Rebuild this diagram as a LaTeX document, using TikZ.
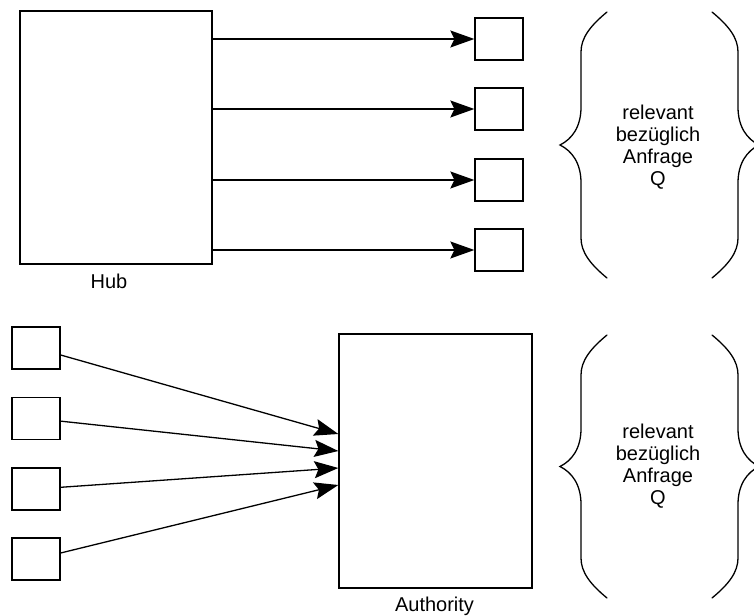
\documentclass[tikz,border=0pt]{standalone}
\usepackage{fontspec}
\setmainfont{Liberation Sans}
\usetikzlibrary{arrows.meta}
\begin{document}
\begin{tikzpicture}[x=1pt,y=-1pt,
  line width=1.3pt,
  every node/.style={font=\fontsize{20}{22}\selectfont},
  bigbox/.style={draw, line width=1.3pt, minimum width=192pt, minimum height=253pt, inner sep=0pt},
  page/.style={draw, line width=1.3pt, minimum width=48pt, minimum height=42pt, inner sep=0pt},
  link/.style={-{Stealth[length=24pt,width=17pt,inset=4pt]}, line width=1.3pt},
  caption/.style={anchor=base, inner sep=0pt},
  bracetext/.style={align=center, inner sep=0pt},
  bracepath/.style={line width=1.3pt, line cap=round}]
\useasboundingbox (0,0) rectangle (754,615);

% ---------- hub part ----------
\node[bigbox] (hub) at (116,137.5) {};
\node[caption] (hublabel) at (109,288) {Hub};
\foreach \i/\y in {1/39,2/109,3/180,4/250}{
  \node[page] (t\i) at (499,\y) {};
  \draw[link] (hub.east |- t\i.west) -- (t\i.west);
}

% ---------- authority part ----------
\node[bigbox, minimum width=193pt, minimum height=254pt] (auth) at (435.5,461) {};
\node[caption] (authlabel) at (434.5,611) {Authority};
\foreach \i/\y/\e in {1/348/434,2/418.5/451,3/489/468,4/559/485}{
  \node[page] (b\i) at (36,\y) {};
  \coordinate (in\i) at (auth.west |- 0,\e);
  \draw[link] (b\i) -- (in\i);
}

% ---------- braces ----------
% #1 = top, #2 = tip, #3 = bottom (y values)
\newcommand{\leftbrace}[3]{%
  \draw[bracepath] (607,#1) .. controls (590,#1+14) and (581,#1+26) .. (581,#1+40)
    -- (581,#2-38) .. controls (581,#2-18) and (572,#2-6) .. (560,#2)
    .. controls (572,#2+6) and (581,#2+18) .. (581,#2+38)
    -- (581,#3-40) .. controls (581,#3-26) and (590,#3-14) .. (607,#3);}
\newcommand{\rightbrace}[3]{%
  \draw[bracepath] (712,#1) .. controls (729,#1+14) and (738,#1+26) .. (738,#1+40)
    -- (738,#2-38) .. controls (738,#2-18) and (747,#2-6) .. (759,#2)
    .. controls (747,#2+6) and (738,#2+18) .. (738,#2+38)
    -- (738,#3-40) .. controls (738,#3-26) and (729,#3-14) .. (712,#3);}

\begin{scope}
\clip (0,0) rectangle (754,615);
\leftbrace{12}{145}{278}
\rightbrace{12}{145}{278}
\leftbrace{335}{466.5}{598}
\rightbrace{335}{466.5}{598}
\end{scope}

\node[bracetext] (q1) at (658,147) {relevant\\bezüglich\\Anfrage\\Q};
\node[bracetext] (q2) at (658,466) {relevant\\bezüglich\\Anfrage\\Q};
\end{tikzpicture}
\end{document}
